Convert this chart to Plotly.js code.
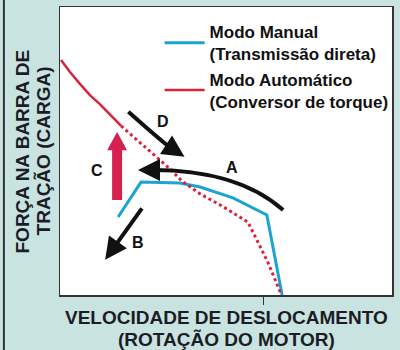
<!DOCTYPE html>
<html>
<head>
<meta charset="utf-8">
<script src="https://cdn.plot.ly/plotly-3.0.1.min.js"></script>
<style>
  html, body { margin: 0; padding: 0; background: #c9e4e0; }
  #chart { width: 400px; height: 350px; }
</style>
</head>
<body>
<div id="chart"></div>
<script>
// Curves, on a 0-100 scale for both axes
const manualX = [17.5, 24.4, 36.1, 42.2, 52.1, 62.3, 66.9];
const manualY = [27.1, 39.2, 38.9, 37.5, 33.7, 27.8, 0.0];

const autoSolidX = [0.3, 3.0, 6.0, 9.0, 12.0, 15.1, 18.4];
const autoSolidY = [81.6, 77.4, 73.3, 69.4, 66.3, 62.5, 58.7];

const autoDotX = [18.4, 27.1, 33.1, 36.7, 42.2, 48.8, 54.8, 56.6, 59.0, 62.7, 66.6];
const autoDotY = [58.7, 50.0, 43.8, 39.6, 35.1, 30.9, 26.4, 25.3, 19.8, 11.1, 0.3];

const speedTick = [61.4];

const manualName = 'Modo Manual<br>(Transmissão direta)';
const autoName = 'Modo Automático<br>(Conversor de torque)';

const FONT = '"Liberation Sans", Arial, sans-serif';
const INK = '#1c1c26';
const BLUE = '#1ba3d4';
const RED = '#d9243c';

const traces = [
    {
        x: manualX, y: manualY, mode: 'lines', name: manualName,
        line: { color: BLUE, width: 3 }, hoverinfo: 'skip'
    },
    {
        x: autoSolidX, y: autoSolidY, mode: 'lines', name: autoName,
        line: { color: RED, width: 2.5 }, hoverinfo: 'skip'
    },
    {
        x: autoDotX, y: autoDotY, mode: 'lines', showlegend: false,
        line: { color: RED, width: 3, dash: 'dot' }, hoverinfo: 'skip'
    }
];

function label(txt, x, y) {
    return { text: txt, x: x, y: y, xref: 'x', yref: 'y', showarrow: false,
             font: { family: FONT, size: 16, color: '#111', weight: 700 } };
}

function head(x, y, ax, ay) {
    return { text: '', x: x, y: y, ax: ax, ay: ay, xref: 'x', yref: 'y', axref: 'x', ayref: 'y',
             showarrow: true, arrowhead: 2, arrowsize: 1.1, arrowwidth: 4, arrowcolor: '#111' };
}

const layout = {
    width: 400, height: 350,
    margin: { l: 60, r: 8, t: 7, b: 55, autoexpand: false },
    paper_bgcolor: '#c9e4e0',
    plot_bgcolor: '#ffffff',
    xaxis: {
        range: [0, 100], showgrid: false, zeroline: false,
        showline: true, mirror: true, linecolor: '#333', linewidth: 1.5,
        tickvals: speedTick, ticks: 'outside', ticklen: 8, tickwidth: 1, tickcolor: '#333',
        showticklabels: false
    },
    yaxis: {
        range: [0, 100], showgrid: false, zeroline: false,
        showline: true, mirror: true, linecolor: '#333', linewidth: 1.5,
        showticklabels: false, ticks: ''
    },
    showlegend: true,
    legend: {
        x: 0.3, y: 0.975, xanchor: 'left', yanchor: 'top',
        bgcolor: 'rgba(0,0,0,0)', itemwidth: 40, tracegroupgap: 12,
        font: { family: FONT, size: 17, color: '#111', weight: 700 }
    },
    shapes: [
        // curved arrow A
        { type: 'path', path: 'M67.2,29.5 C57,40 42,43.4 28,43.4', xref: 'x', yref: 'y',
          line: { color: '#111', width: 4 } },
        // curved arrow D
        { type: 'path', path: 'M20.6,63.6 Q30.9,53 34.5,50', xref: 'x', yref: 'y',
          line: { color: '#111', width: 4 } },
        // thick red arrow C
        { type: 'path', path: 'M15.7,33 L18.7,33 L18.7,50.3 L20.2,50.3 L17.2,56.6 L14.2,50.3 L15.7,50.3 Z',
          xref: 'x', yref: 'y', fillcolor: '#d6204f', line: { width: 0 } },
        // dark rule on the left edge of the figure
        { type: 'line', xref: 'paper', yref: 'paper', x0: -0.169, x1: -0.169, y0: -0.2, y1: 1.03,
          line: { color: '#333', width: 2 } }
    ],
    annotations: [
        head(23.5, 43.4, 30, 43.4),
        head(37.5, 48, 33.5, 51),
        head(13.6, 12.2, 25, 30.6),
        label('A', 51.8, 44.1),
        label('B', 23.5, 18.4),
        label('C', 11.1, 43.4),
        label('D', 31.0, 60.1),
        { text: 'VELOCIDADE DE DESLOCAMENTO', xref: 'paper', yref: 'paper', x: 0.5, y: -0.035,
          yanchor: 'top', showarrow: false, font: { family: FONT, size: 19, color: INK, weight: 700 } },
        { text: '(ROTAÇÃO DO MOTOR)', xref: 'paper', yref: 'paper', x: 0.5, y: -0.112,
          yanchor: 'top', showarrow: false, font: { family: FONT, size: 19, color: INK, weight: 700 } },
        { text: 'FORÇA NA BARRA DE', xref: 'paper', yref: 'paper', x: -0.113, y: 0.5,
          xanchor: 'center', textangle: -90, showarrow: false,
          font: { family: FONT, size: 19, color: INK, weight: 700 } },
        { text: 'TRAÇÃO (CARGA)', xref: 'paper', yref: 'paper', x: -0.05, y: 0.5,
          xanchor: 'center', textangle: -90, showarrow: false,
          font: { family: FONT, size: 19, color: INK, weight: 700 } }
    ]
};

Plotly.newPlot('chart', traces, layout, { displayModeBar: false, staticPlot: true });
</script>
</body>
</html>
